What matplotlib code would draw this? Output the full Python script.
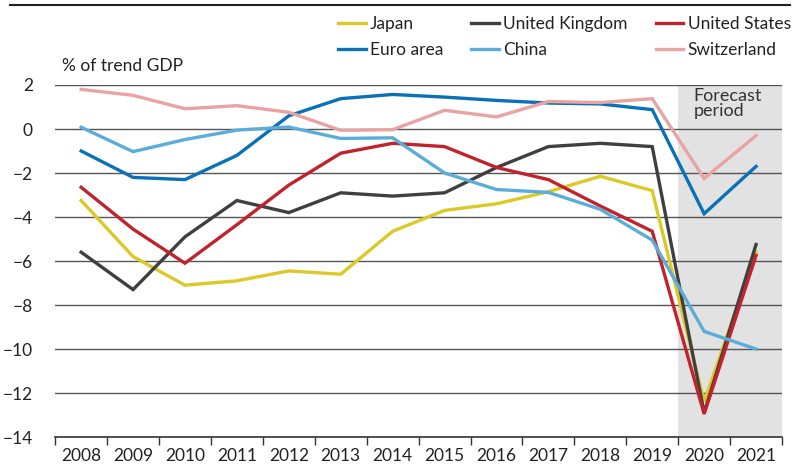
import numpy as np
import matplotlib.pyplot as plt
from matplotlib.lines import Line2D

plt.rcParams['font.family'] = ['Lato', 'DejaVu Sans']

years = ['2008', '2009', '2010', '2011', '2012', '2013', '2014',
         '2015', '2016', '2017', '2018', '2019', '2020', '2021']

japan = [-3.25, -5.8, -7.1, -6.9, -6.45, -6.6, -4.65,
         -3.7, -3.4, -2.85, -2.15, -2.8, -12.4, -5.6]
uk = [-5.6, -7.3, -4.9, -3.25, -3.8, -2.9, -3.05,
      -2.9, -1.75, -0.8, -0.65, -0.8, -12.9, -5.25]
us = [-2.65, -4.55, -6.1, -4.35, -2.55, -1.1, -0.65,
      -0.8, -1.75, -2.3, -3.5, -4.65, -12.95, -5.75]
euro = [-1.0, -2.2, -2.3, -1.2, 0.6, 1.38, 1.57,
        1.45, 1.3, 1.18, 1.14, 0.88, -3.85, -1.7]
china = [0.08, -1.03, -0.48, -0.05, 0.09, -0.43, -0.4,
         -2.0, -2.75, -2.88, -3.65, -5.05, -9.2, -10.0]
swiss = [1.8, 1.53, 0.92, 1.06, 0.76, -0.06, -0.03,
         0.85, 0.55, 1.25, 1.2, 1.38, -2.25, -0.3]

yticks = np.arange(-14, 3, 2)

fig = plt.figure(figsize=(8, 4.66), dpi=100)
ax = fig.add_axes([0.069, 0.0622, 0.9085, 0.7554])

x = np.arange(len(years))

# forecast shading
ax.axvspan(11.5, 13.5, color='#e2e2e2', zorder=0, lw=0)

ax.set_yticks(yticks)
ax.set_ylim(-14, 2)
ax.grid(axis='y', color='#555555', linewidth=1.0, zorder=1)
ax.set_axisbelow(True)

series = [
    (japan, '#dcc928', 'Japan'),
    (uk, '#3f3f3f', 'United Kingdom'),
    (us, '#c1222c', 'United States'),
    (euro, '#0a71b9', 'Euro area'),
    (china, '#5badd9', 'China'),
    (swiss, '#e8a3a3', 'Switzerland'),
]
lines = {}
for vals, col, lab in series:
    ln, = ax.plot(x, vals, color=col, linewidth=2.4, label=lab,
                  solid_joinstyle='miter', zorder=3)
    lines[lab] = ln

ax.set_xlim(-0.5, 13.5)
ax.set_xticks(x)
ax.set_xticklabels(years)
ax.set_xticks(np.arange(-0.5, 14, 1), minor=True)
ax.tick_params(axis='x', which='major', length=0, pad=8,
               labelsize=12.5, labelcolor='#222222')
ax.tick_params(axis='x', which='minor', length=6, color='#333333', width=1)
ax.tick_params(axis='y', length=0, pad=16, labelsize=12.5,
               labelcolor='#222222')

for s in ['top', 'left', 'right']:
    ax.spines[s].set_visible(False)
ax.spines['bottom'].set_color('#333333')
ax.spines['bottom'].set_linewidth(1.2)

ax.text(11.8, 1.85, 'Forecast\nperiod', fontsize=13, color='#333333',
        va='top', ha='left', linespacing=0.9, zorder=4)

fig.text(62 / 800, 1 - 66 / 466, '% of trend GDP', fontsize=12.5,
         color='#222222', va='center', ha='left')

order = ['Japan', 'Euro area', 'United Kingdom', 'China',
         'United States', 'Switzerland']
fig.legend([lines[k] for k in order], order, ncol=3, frameon=False,
           loc='upper left', bbox_to_anchor=(338 / 800, 1 - 16 / 466),
           fontsize=12.5, handlelength=1.6, handletextpad=0.25,
           columnspacing=1.6, labelspacing=0.6, borderaxespad=0,
           borderpad=0, labelcolor='#222222')

fig.add_artist(Line2D([10 / 800, 790 / 800], [1 - 5 / 466, 1 - 5 / 466],
                      color='#222222', linewidth=1.5))

plt.savefig('out.png', dpi=100)
